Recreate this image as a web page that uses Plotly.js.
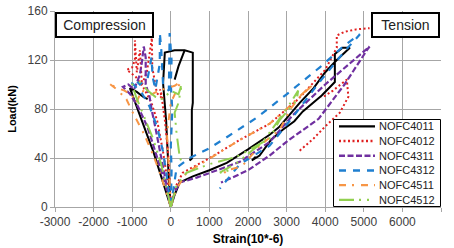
<!DOCTYPE html>
<html><head><meta charset="utf-8">
<script src="https://cdn.plot.ly/plotly-3.0.1.min.js"></script>
<style>html,body{margin:0;padding:0;background:#fff;} #chart{width:454px;height:248px;}</style>
</head><body><div id="chart"></div>
<script>
// ---- data (strain in 10^-6, load in kN); null separates gauge branches ----
const seriesNames = ["NOFC4011","NOFC4012","NOFC4311","NOFC4312","NOFC4511","NOFC4512"];

const strain4011 = [0,-200,-450,-650,-850,-1060,-880,-720,-600,null,
  0,-50,-80,-120,-200,-170,-155,100,360,570,570,570,545,545,545,490,560,null,
  100,200,310,360,null,
  0,100,230,570,1000,1450,2000,2560,2800,3340,3700,4000,4300,4640,4450,4250,4250,3910,3420,3200,2900,2600,2300,2100,2200];
const load4011 = [0,20,45,62,79,97,94,90,88,null,
  0,20,44,70,101,115,126,128,128,126,100,85,79,60,41,38,40,null,
  104,115,124,128,null,
  0,10,20,25,30,36,47,59,65,85,97,110,120,130,130,125,102,91,78,70,63,55,42,38,41];

const strain4012 = [0,-80,-200,-350,-500,-700,-900,-1140,-1000,-930,-930,-880,-800,-750,-620,-490,-480,-400,-360,-200,-280,-220,-150,-60,0,null,
  0,100,310,1010,1800,2560,3300,4000,4300,4300,4500,4800,5150,null,
  3340,3700,4040,4380,4600,4560,4400,4200,3910];
const load4012 = [0,20,45,70,85,97,106,112,114,120,136,110,128,100,110,138,114,100,93,88,96,86,70,40,0,null,
  0,15,28,40,55,68,88,112,130,140,143,145,146,null,
  46,56,67,77,90,104,100,95,89];

const strain4311 = [0,-150,-350,-600,-850,-1050,-1240,-1100,-950,-800,-750,-700,-650,-650,-550,-500,-400,-250,-120,0,null,
  0,100,230,670,1200,1790,2560,3160,4000,5150,5080,4500,3830,3030,2560,2000,1450,1300];
const load4311 = [0,20,40,65,82,92,98,100,96,108,118,131,122,100,90,80,65,40,20,0,null,
  0,12,20,24,30,37,53,75,100,131,128,100,72,54,42,30,22,20];

const strain4312 = [0,-80,-200,-350,-550,-750,-1000,-930,-800,-600,-500,-470,-400,-285,-285,-250,-200,-50,-30,20,0,40,0,20,0,null,
  0,130,150,490,1000,1500,2230,3000,3860,4500,4900,4500,3800,3200,2560,1790,1270];
const load4312 = [0,20,45,65,82,93,101,104,100,105,122,106,96,117,142,130,100,95,142,120,100,79,50,30,0,null,
  0,25,32,40,48,58,73,92,114,132,141,127,100,75,50,35,15];

const strain4511 = [0,-100,-250,-450,-700,-1000,-1150,-1400,-1600,-1450,-1200,-1000,-900,-750,-500,-300,-100,100,250,150,0,-100,-50,0,null,
  0,150,410,930,1800,2560,3000,3260,3500,3700,3400,3100,2820,2300,1840,1450,1300];
const load4511 = [0,10,25,42,60,78,88,96,101,98,95,91,85,95,92,95,97,99,102,95,85,60,30,0,null,
  0,15,28,38,55,68,80,88,95,100,92,80,63,50,33,30,25];

const strain4512 = [0,-100,-250,-450,-700,-900,-1000,-800,-600,-400,-200,0,200,280,200,100,150,230,300,null,
  0,150,410,1000,1710,2560,2820,3260,3300,3000,2380,1710,1270,1530];
const load4512 = [0,15,35,55,75,90,100,102,95,90,88,95,92,100,85,77,60,41,35,null,
  0,18,28,35,41,56,71,87,95,80,53,36,28,30];

const xTicks = [-3000,-2000,-1000,0,1000,2000,3000,4000,5000,6000,7000];
const yTicks = [0,40,80,120,160];

// ---- styles ----
const styles = [
  {color:"#000000", dash:"solid", width:2},
  {color:"#e02020", dash:"2px,2.5px", width:2},
  {color:"#7030a0", dash:"6px,2.5px", width:2.2},
  {color:"#1f7fd0", dash:"7px,7px", width:2.2},
  {color:"#f79646", dash:"7px,6px,2px,7px", width:2},
  {color:"#92d050", dash:"15px,5px,2px,6px,2px,6px", width:2}
];
const xs = [strain4011,strain4012,strain4311,strain4312,strain4511,strain4512];
const ys = [load4011,load4012,load4311,load4312,load4511,load4512];

const traces = seriesNames.map((n,i)=>({
  type:"scatter", mode:"lines", name:n, x:xs[i], y:ys[i],
  connectgaps:false, showlegend:false,
  line:{color:styles[i].color, dash:styles[i].dash, width:styles[i].width}
}));

// plot area geometry in px
const W=454,H=248,L=55,R=441,T=11,B=207;
const px2x = p => (p-L)/(R-L);
const px2y = p => (B-p)/(B-T);

const shapes = [];
const annotations = [];
// custom legend box
shapes.push({type:"rect", xref:"paper", yref:"paper", x0:px2x(333.5), x1:px2x(440.5), y0:px2y(206.5), y1:px2y(119.5),
  line:{color:"#000", width:1}, fillcolor:"#fff", layer:"above"});
seriesNames.forEach((n,i)=>{
  const yc = 126.3 + i*14.7;
  shapes.push({type:"line", xref:"paper", yref:"paper", x0:px2x(339), x1:px2x(375), y0:px2y(yc), y1:px2y(yc),
    line:{color:styles[i].color, dash:styles[i].dash, width:styles[i].width+0.3}, layer:"above"});
  annotations.push({xref:"paper", yref:"paper", x:px2x(377), y:px2y(yc), xanchor:"left", yanchor:"middle",
    text:n, showarrow:false, font:{family:"Liberation Sans, Arial, sans-serif", size:11, color:"#222"}});
});
annotations.push({xref:"paper", yref:"paper", x:px2x(55), y:px2y(12), xanchor:"left", yanchor:"top",
  text:"Compression", showarrow:false, width:93, height:20, borderwidth:2, borderpad:1, bordercolor:"#000", bgcolor:"#fff",
  font:{family:"Liberation Sans, Arial, sans-serif", size:14, color:"#222"}});
annotations.push({xref:"paper", yref:"paper", x:px2x(440), y:px2y(12), xanchor:"right", yanchor:"top",
  text:"Tension", showarrow:false, width:63, height:20, borderwidth:2, borderpad:1, bordercolor:"#000", bgcolor:"#fff",
  font:{family:"Liberation Sans, Arial, sans-serif", size:14, color:"#222"}});

const layout = {
  width:W, height:H, margin:{l:L, r:W-R, t:T, b:H-B, pad:0},
  paper_bgcolor:"#fff", plot_bgcolor:"#fff", showlegend:false,
  font:{family:"Liberation Sans, Arial, sans-serif", size:12, color:"#404040"},
  xaxis:{range:[-3000,7000], tickvals:xTicks, ticktext:xTicks.map(String), showgrid:true, gridcolor:"#a6a6a6", gridwidth:1,
    zeroline:false, showline:true, linecolor:"#a6a6a6", linewidth:1, ticks:"outside", ticklen:4, tickcolor:"#a6a6a6",
    tickfont:{size:12, color:"#404040"},
    title:{text:"<b>Strain(10*-6)</b>", font:{size:12, color:"#000"}, standoff:6}},
  yaxis:{range:[0,160], tickvals:yTicks, ticktext:yTicks.map(String), showgrid:true, gridcolor:"#a6a6a6", gridwidth:1,
    zeroline:false, showline:true, linecolor:"#a6a6a6", linewidth:1, ticks:"outside", ticklen:4, tickcolor:"#a6a6a6",
    tickfont:{size:12, color:"#404040"},
    title:{text:"<b>Load(kN)</b>", font:{size:11, color:"#000"}, standoff:8}},
  shapes:shapes, annotations:annotations
};
Plotly.newPlot("chart", traces, layout, {staticPlot:true, displayModeBar:false});
</script></body></html>
